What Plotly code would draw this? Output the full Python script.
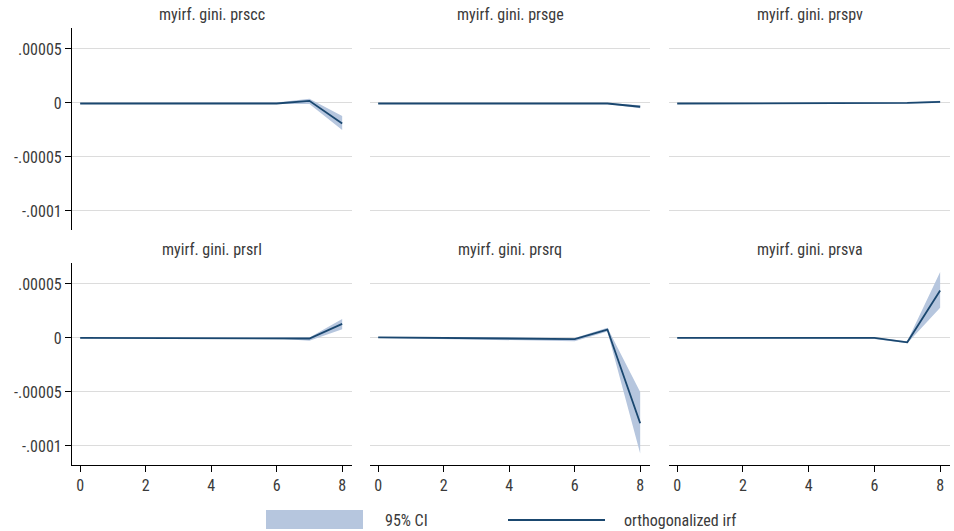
import plotly.graph_objects as go
from plotly.subplots import make_subplots

steps = [0, 1, 2, 3, 4, 5, 6, 7, 8]

titles = ["myirf. gini. prscc", "myirf. gini. prsge", "myirf. gini. prspv",
          "myirf. gini. prsrl", "myirf. gini. prsrq", "myirf. gini. prsva"]

# values, in units of 1e-5
prscc_irf = [-0.05, -0.05, -0.05, -0.05, -0.05, -0.05, -0.05, 0.2, -1.9]
prscc_lo = [-0.1, -0.1, -0.1, -0.1, -0.1, -0.1, -0.1, -0.1, -2.5]
prscc_hi = [0.0, 0.0, 0.0, 0.0, 0.0, 0.0, 0.05, 0.4, -1.2]

prsge_irf = [-0.05, -0.05, -0.05, -0.05, -0.05, -0.05, -0.05, -0.05, -0.35]
prsge_lo = [-0.1, -0.1, -0.1, -0.1, -0.1, -0.1, -0.1, -0.1, -0.5]
prsge_hi = [0.0, 0.0, 0.0, 0.0, 0.0, 0.0, 0.0, 0.0, -0.2]

prspv_irf = [-0.05, -0.05, -0.05, -0.04, -0.03, -0.02, -0.01, 0.0, 0.1]
prspv_lo = [-0.1, -0.1, -0.1, -0.1, -0.08, -0.07, -0.06, -0.05, 0.0]
prspv_hi = [0.0, 0.0, 0.0, 0.0, 0.02, 0.03, 0.04, 0.05, 0.2]

prsrl_irf = [0.0, 0.0, 0.0, 0.0, 0.0, 0.0, 0.0, -0.05, 1.3]
prsrl_lo = [-0.05, -0.05, -0.05, -0.05, -0.05, -0.05, -0.05, -0.25, 0.8]
prsrl_hi = [0.05, 0.05, 0.05, 0.05, 0.05, 0.05, 0.05, 0.05, 1.75]

prsrq_irf = [0.05, 0.03, 0.0, -0.02, -0.04, -0.06, -0.1, 0.78, -7.9]
prsrq_lo = [0.0, -0.05, -0.1, -0.15, -0.2, -0.25, -0.3, 0.6, -10.7]
prsrq_hi = [0.1, 0.08, 0.05, 0.03, 0.0, -0.02, 0.0, 0.95, -5.0]

prsva_irf = [0.0, 0.0, 0.0, 0.0, 0.0, 0.0, 0.0, -0.4, 4.4]
prsva_lo = [-0.05, -0.05, -0.05, -0.05, -0.05, -0.05, -0.1, -0.5, 2.8]
prsva_hi = [0.05, 0.05, 0.05, 0.05, 0.05, 0.05, 0.05, -0.3, 6.1]

panels = [
    (prscc_irf, prscc_lo, prscc_hi),
    (prsge_irf, prsge_lo, prsge_hi),
    (prspv_irf, prspv_lo, prspv_hi),
    (prsrl_irf, prsrl_lo, prsrl_hi),
    (prsrq_irf, prsrq_lo, prsrq_hi),
    (prsva_irf, prsva_lo, prsva_hi),
]

ytickvals = [5e-5, 0, -5e-5, -1e-4]
yticktext = [".00005", "0", "-.00005", "-.0001"]
xtickvals = [0, 2, 4, 6, 8]

W, H = 954, 531
LINE = "#1a476f"
CI = "#b6c6de"
GRID = "#dcdcdc"
TEXT = "#3a3a3a"
FONT = "Liberation Sans Narrow, Roboto Condensed, Arial Narrow, sans-serif"

col_px = [(72, 352), (370, 650), (669, 950)]
row_px = [(28, 230), (263, 465)]

fig = make_subplots(rows=2, cols=3)

for i, (irf, lo, hi) in enumerate(panels):
    r, c = i // 3 + 1, i % 3 + 1
    fig.add_trace(go.Scatter(x=steps, y=[v * 1e-5 for v in hi], mode="lines",
                             line=dict(width=0), showlegend=False,
                             hoverinfo="skip"), row=r, col=c)
    fig.add_trace(go.Scatter(x=steps, y=[v * 1e-5 for v in lo], mode="lines",
                             line=dict(width=0), fill="tonexty",
                             fillcolor=CI, showlegend=False,
                             hoverinfo="skip"), row=r, col=c)
    fig.add_trace(go.Scatter(x=steps, y=[v * 1e-5 for v in irf], mode="lines",
                             line=dict(color=LINE, width=1.8),
                             showlegend=False), row=r, col=c)

for i in range(6):
    r, c = i // 3, i % 3
    x0, x1 = col_px[c]
    y0, y1 = row_px[r]
    idx = "" if i == 0 else str(i + 1)
    fig.layout["xaxis" + idx].update(
        domain=[x0 / W, x1 / W], range=[-0.25, 8.3],
        showgrid=False, zeroline=False,
        showline=(r == 1), linecolor="#000", linewidth=1.2,
        ticks="outside" if r == 1 else "", ticklen=6, tickcolor="#000",
        tickvals=xtickvals, showticklabels=(r == 1),
        tickfont=dict(family=FONT, size=16, color=TEXT),
    )
    fig.layout["yaxis" + idx].update(
        domain=[1 - y1 / H, 1 - y0 / H], range=[-1.176e-4, 0.694e-4],
        showgrid=True, gridcolor=GRID, gridwidth=1, zeroline=False,
        showline=(c == 0), linecolor="#000", linewidth=1.2,
        ticks="outside" if c == 0 else "", ticklen=6, tickcolor="#000",
        tickvals=ytickvals, ticktext=yticktext, showticklabels=(c == 0),
        tickfont=dict(family=FONT, size=16, color=TEXT),
    )
    fig.add_annotation(text=titles[i], xref="paper", yref="paper",
                       x=(x0 + x1) / 2 / W, y=1 - (y0 - 14) / H,
                       xanchor="center", yanchor="middle", showarrow=False,
                       font=dict(family=FONT, size=16, color=TEXT))

# legend drawn by hand to get the wide Stata-style keys
fig.add_shape(type="rect", xref="paper", yref="paper",
              x0=266 / W, x1=363 / W, y0=1 - 529 / H, y1=1 - 510 / H,
              fillcolor=CI, line=dict(width=0))
fig.add_shape(type="line", xref="paper", yref="paper",
              x0=508 / W, x1=605 / W, y0=1 - 520 / H, y1=1 - 520 / H,
              line=dict(color=LINE, width=2.2))
fig.add_annotation(text="95% CI", xref="paper", yref="paper",
                   x=383 / W, y=1 - 520 / H, xanchor="left", yanchor="middle",
                   showarrow=False, font=dict(family=FONT, size=16, color=TEXT))
fig.add_annotation(text="orthogonalized irf", xref="paper", yref="paper",
                   x=622 / W, y=1 - 520 / H, xanchor="left", yanchor="middle",
                   showarrow=False, font=dict(family=FONT, size=16, color=TEXT))

fig.update_layout(
    width=W, height=H,
    margin=dict(l=0, r=0, t=0, b=0),
    paper_bgcolor="white", plot_bgcolor="white",
    showlegend=False,
)

fig.write_html("out.html", config={"displayModeBar": False},
               post_script="document.body.style.margin='0';")
